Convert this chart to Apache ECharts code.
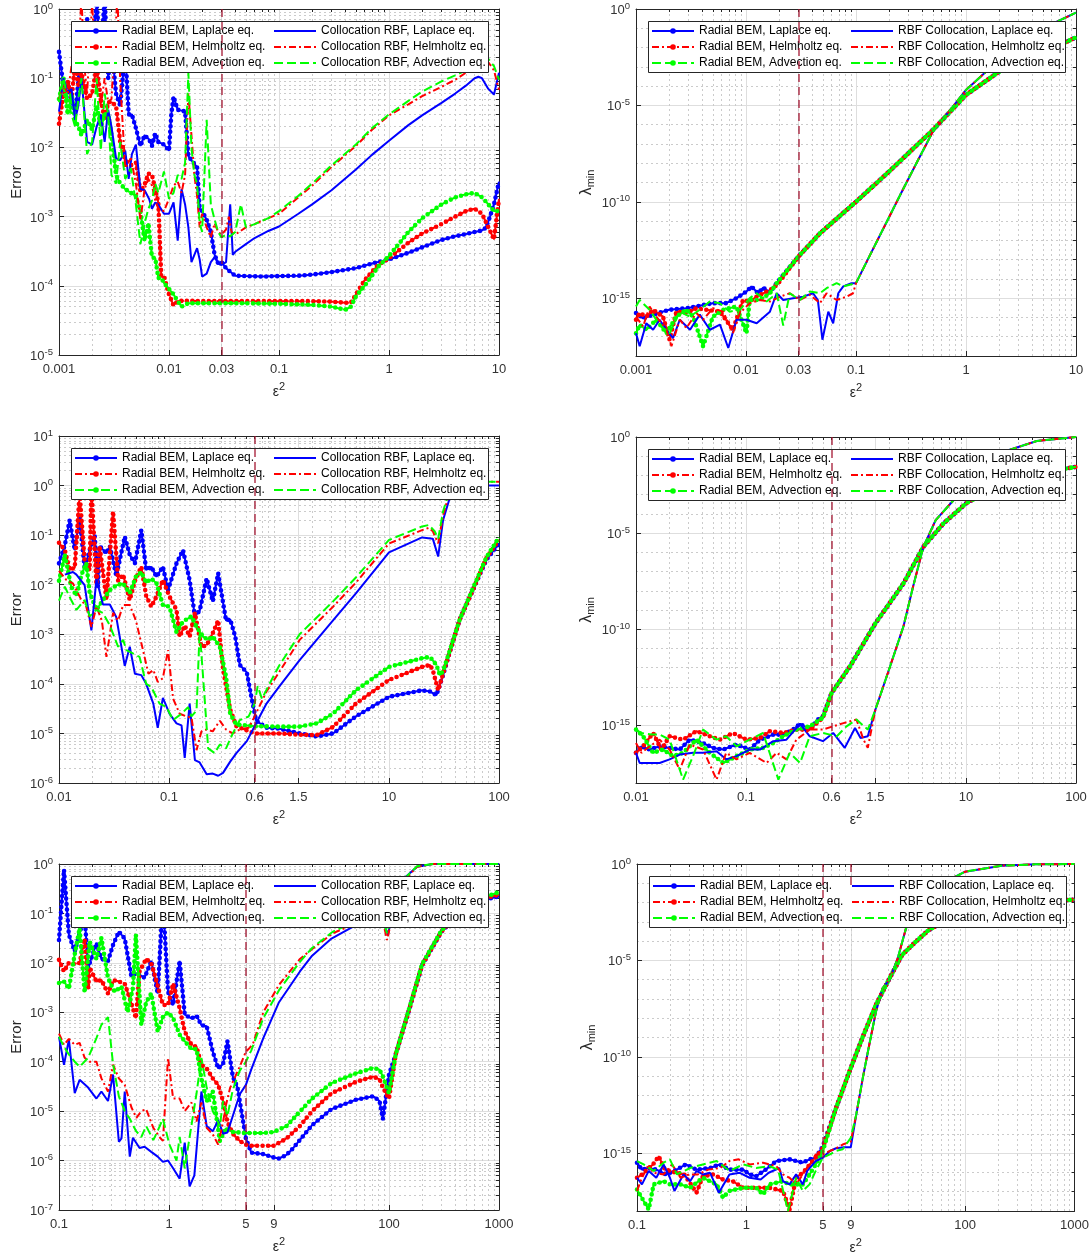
<!DOCTYPE html>
<html>
<head>
<meta charset="utf-8">
<script src="https://cdn.jsdelivr.net/npm/echarts@6/dist/echarts.min.js"></script>
<style>
html, body { margin: 0; padding: 0; background: #ffffff; }
#chart { width: 1092px; height: 1258px; }
</style>
</head>
<body>
<div id="chart"></div>
<script>
// ---------------- axis ticks ----------------
const p1XTicks = [0.001, 0.01, 0.03, 0.1, 1, 10];
const p3XTicks = [0.01, 0.1, 0.6, 1.5, 10, 100];
const p5XTicks = [0.1, 1, 5, 9, 100, 1000];
const errYTicks1 = [1e-5, 1e-4, 1e-3, 1e-2, 1e-1, 1];
const errYTicks3 = [1e-6, 1e-5, 1e-4, 1e-3, 1e-2, 1e-1, 1, 10];
const errYTicks5 = [1e-7, 1e-6, 1e-5, 1e-4, 1e-3, 1e-2, 1e-1, 1];
const lamYTicks = [1e-15, 1e-10, 1e-5, 1];

// shape parameter marked in each row
const p1RefEps = 0.03;
const p3RefEps = 0.6;
const p5RefEps = 5;
const p6RefEps2 = 9;

// ---------------- row 1: error ----------------
const p1BemLaplace = [[0.001,0.24],[0.0011,0.075],[0.0012,0.085],[0.0013,0.045],[0.0014,0.03],[0.0015,0.09],[0.0016,0.2],[0.0018,0.73],[0.002,0.25],[0.0022,1.2],[0.0024,0.2],[0.0026,1.5],[0.0028,0.1],[0.003,0.3],[0.0033,0.06],[0.0036,0.04],[0.004,0.25],[0.0043,0.03],[0.0046,0.03],[0.005,0.019],[0.0055,0.0105],[0.006,0.015],[0.0066,0.013],[0.007,0.0105],[0.0075,0.016],[0.008,0.012],[0.009,0.011],[0.01,0.009],[0.0105,0.03],[0.011,0.054],[0.012,0.035],[0.013,0.034],[0.014,0.033],[0.015,0.0075],[0.016,0.0065],[0.017,0.0058],[0.018,0.0052],[0.019,0.0013],[0.02,0.0012],[0.022,0.0009],[0.024,0.0006],[0.026,0.00028],[0.028,0.00021],[0.03,0.00022],[0.033,0.00018],[0.036,0.00016],[0.04,0.00014],[0.05,0.000138],[0.07,0.000136],[0.1,0.000138],[0.15,0.00014],[0.2,0.000145],[0.3,0.000158],[0.5,0.00018],[0.7,0.00021],[1,0.00024],[1.5,0.0003],[2,0.00036],[3,0.00046],[4,0.00052],[5,0.00056],[6,0.0006],[7,0.00063],[7.5,0.00068],[8,0.00085],[9,0.0015],[10,0.0032]];
const p1BemHelmholtz = [[0.001,0.022],[0.0011,0.06],[0.0012,0.09],[0.0013,0.05],[0.0014,0.17],[0.0015,0.08],[0.0016,0.12],[0.0018,0.05],[0.002,0.06],[0.0022,0.15],[0.0024,0.05],[0.0026,0.025],[0.0028,0.045],[0.003,0.045],[0.0033,0.04],[0.0036,0.012],[0.004,0.0065],[0.0045,0.0055],[0.005,0.006],[0.0055,0.0023],[0.006,0.0029],[0.0065,0.0042],[0.007,0.004],[0.0075,0.0025],[0.008,0.0016],[0.0085,0.00014],[0.009,0.00014],[0.0095,0.0001],[0.01,0.000075],[0.011,0.000052],[0.012,0.00006],[0.014,0.000061],[0.02,0.00006],[0.05,0.00006],[0.1,0.00006],[0.2,0.00006],[0.3,0.000059],[0.4,0.000057],[0.45,0.000057],[0.5,0.000075],[0.6,0.00012],[0.7,0.00016],[0.8,0.0002],[1,0.00025],[1.5,0.00042],[2,0.00057],[3,0.00078],[4,0.001],[5,0.0012],[6,0.0013],[7,0.0011],[8,0.0007],[9,0.00047],[10,0.0018]];
const p1BemAdvection = [[0.001,0.05],[0.0011,0.1],[0.0012,0.03],[0.0013,0.06],[0.0014,0.025],[0.0015,0.02],[0.0016,0.015],[0.0018,0.025],[0.002,0.018],[0.0022,0.04],[0.0024,0.02],[0.0026,0.03],[0.0028,0.03],[0.003,0.015],[0.0033,0.004],[0.0036,0.003],[0.004,0.0025],[0.0045,0.0022],[0.005,0.002],[0.0055,0.0012],[0.006,0.00045],[0.0065,0.0008],[0.007,0.00026],[0.0075,0.00025],[0.008,0.00013],[0.0085,0.00013],[0.009,0.00011],[0.01,0.00009],[0.011,0.000075],[0.012,0.00006],[0.013,0.00005],[0.015,0.000056],[0.02,0.000056],[0.05,0.000056],[0.1,0.000055],[0.2,0.000053],[0.3,0.00005],[0.4,0.000045],[0.45,0.00005],[0.5,0.00007],[0.6,0.0001],[0.7,0.00014],[0.8,0.00019],[1,0.00027],[1.3,0.00045],[1.5,0.0006],[2,0.00095],[3,0.0015],[4,0.0019],[5,0.0021],[6,0.0022],[7,0.0019],[8,0.0015],[9,0.0012],[10,0.0012]];
const p1RbfLaplace = [[0.001,0.033],[0.0011,0.1],[0.0012,0.06],[0.0013,0.07],[0.0014,0.025],[0.0015,0.04],[0.0016,0.1],[0.0018,0.012],[0.002,0.011],[0.0022,0.02],[0.0024,0.03],[0.0026,0.012],[0.0028,0.035],[0.003,0.02],[0.0033,0.007],[0.0036,0.0065],[0.004,0.009],[0.0043,0.0035],[0.0046,0.008],[0.005,0.011],[0.0055,0.0025],[0.006,0.0024],[0.0066,0.0018],[0.007,0.0013],[0.0075,0.0016],[0.008,0.0015],[0.009,0.0011],[0.01,0.0011],[0.011,0.0016],[0.012,0.00045],[0.013,0.0025],[0.014,0.0015],[0.015,0.0007],[0.016,0.00022],[0.018,0.00035],[0.019,0.00024],[0.02,0.000136],[0.022,0.00015],[0.024,0.00022],[0.026,0.00026],[0.028,0.00021],[0.03,0.0002],[0.033,0.00022],[0.036,0.0015],[0.038,0.00028],[0.04,0.00031],[0.05,0.0004],[0.06,0.00049],[0.08,0.00062],[0.1,0.00072],[0.15,0.0011],[0.2,0.0015],[0.3,0.0024],[0.5,0.0048],[0.7,0.0078],[1,0.0125],[1.5,0.021],[2,0.029],[3,0.044],[4,0.06],[5,0.078],[6,0.1],[6.5,0.105],[7,0.1],[8,0.07],[9,0.058],[10,0.12]];
const p1RbfHelmholtz = [[0.001,0.05],[0.0011,0.08],[0.0012,0.06],[0.0013,0.15],[0.0014,0.09],[0.0015,0.2],[0.0016,1.5],[0.0017,0.15],[0.0018,0.06],[0.002,1.2],[0.0022,0.08],[0.0024,0.04],[0.0026,0.1],[0.0028,0.045],[0.003,0.05],[0.0032,0.3],[0.0034,1.5],[0.0036,0.09],[0.004,0.005],[0.0045,0.007],[0.005,0.003],[0.0055,0.0009],[0.006,0.0025],[0.0065,0.0035],[0.007,0.0028],[0.0075,0.0017],[0.008,0.0013],[0.009,0.0012],[0.01,0.0018],[0.011,0.0028],[0.012,0.0032],[0.013,0.0022],[0.014,0.004],[0.015,0.06],[0.016,0.015],[0.017,0.004],[0.018,0.002],[0.019,0.0007],[0.02,0.0011],[0.022,0.0007],[0.024,0.0005],[0.026,0.0008],[0.028,0.0006],[0.03,0.00055],[0.033,0.00065],[0.035,0.001],[0.037,0.0006],[0.04,0.00055],[0.05,0.0007],[0.06,0.00078],[0.08,0.00095],[0.1,0.0011],[0.15,0.0019],[0.2,0.0028],[0.3,0.0052],[0.5,0.0105],[0.7,0.018],[1,0.029],[1.5,0.042],[2,0.055],[3,0.075],[4,0.095],[5,0.12],[6,0.14],[7,0.16],[8,0.17],[9,0.13],[10,0.068]];
const p1RbfAdvection = [[0.001,0.045],[0.0011,0.1],[0.0012,0.05],[0.0013,0.03],[0.0014,0.02],[0.0015,0.05],[0.0016,0.1],[0.0018,0.008],[0.002,0.012],[0.0022,0.1],[0.0024,0.009],[0.0026,0.06],[0.0028,0.03],[0.003,0.004],[0.0033,0.003],[0.0036,0.012],[0.004,0.0035],[0.0045,0.005],[0.005,0.0015],[0.0055,0.0004],[0.006,0.0008],[0.0065,0.0013],[0.007,0.0017],[0.0075,0.003],[0.008,0.0022],[0.009,0.0045],[0.01,0.0018],[0.011,0.0022],[0.012,0.004],[0.013,0.0035],[0.014,0.006],[0.015,0.12],[0.016,0.01],[0.017,0.004],[0.018,0.003],[0.019,0.0008],[0.02,0.0006],[0.022,0.025],[0.024,0.0015],[0.026,0.0009],[0.028,0.0006],[0.03,0.0005],[0.033,0.00055],[0.036,0.00052],[0.04,0.0006],[0.045,0.0015],[0.05,0.0007],[0.06,0.00078],[0.08,0.00095],[0.1,0.0012],[0.15,0.002],[0.2,0.003],[0.3,0.0055],[0.5,0.011],[0.7,0.019],[1,0.03],[1.5,0.047],[2,0.064],[3,0.09],[4,0.11],[5,0.13],[6,0.15],[7,0.17],[8,0.19],[9,0.15],[10,0.095]];

// ---------------- row 1: smallest eigenvalue ----------------
const p2BemLaplace = [[0.001,1.7e-16],[0.00116,9e-17],[0.00143,1.4e-16],[0.002,2.5e-16],[0.0029,3e-16],[0.005,5.5e-16],[0.0066,5.5e-16],[0.0082,1e-15],[0.0101,2.2e-15],[0.0112,4e-15],[0.0129,1.8e-15],[0.0143,3.5e-15],[0.0165,2e-15],[0.019,6e-15],[0.03,1.45e-13],[0.047,2.3e-12],[0.1,1e-10],[0.2,3.7e-9],[0.5,5.3e-7],[1,3.5e-5],[2,5.6e-4],[5,5e-3],[10,0.034]];
const p2BemHelmholtz = [[0.001,7.6e-17],[0.00108,1.7e-16],[0.00124,1.1e-16],[0.00143,2.5e-16],[0.00176,1.1e-16],[0.00202,7e-18],[0.00233,2e-16],[0.00287,1.7e-16],[0.00354,3e-16],[0.00437,2.5e-16],[0.0058,2e-16],[0.0076,2.3e-17],[0.0094,8e-16],[0.0108,6.7e-16],[0.0125,1.2e-15],[0.0154,2.2e-15],[0.0177,3.3e-15],[0.0197,6e-15],[0.03,1.45e-13],[0.047,2.3e-12],[0.1,1e-10],[0.2,3.7e-9],[0.5,5.3e-7],[1,3.5e-5],[2,5.6e-4],[5,5e-3],[10,0.034]];
const p2BemAdvection = [[0.001,1.5e-17],[0.00108,4.2e-17],[0.00124,2.3e-17],[0.00153,7.6e-17],[0.00189,1.5e-17],[0.00233,1.1e-16],[0.00287,2.5e-16],[0.0033,1.1e-16],[0.00407,3.2e-18],[0.005,1.1e-16],[0.0062,2.5e-16],[0.0082,3.7e-16],[0.0101,1.5e-17],[0.0108,8e-16],[0.0134,8e-16],[0.0165,1.8e-15],[0.019,6e-15],[0.03,1.45e-13],[0.047,2.3e-12],[0.1,1e-10],[0.2,3.7e-9],[0.5,5.3e-7],[1,3.5e-5],[2,5.6e-4],[5,5e-3],[10,0.034]];
const p2RbfLaplace = [[0.001,1.5e-17],[0.00108,3.2e-18],[0.00124,5e-17],[0.00143,2.3e-17],[0.00164,7.6e-17],[0.00189,2.3e-17],[0.00217,8.5e-18],[0.0025,7.6e-17],[0.0031,2.3e-17],[0.0038,1.4e-16],[0.0047,2.3e-17],[0.0058,4.2e-17],[0.0069,2.6e-18],[0.0082,7.6e-17],[0.0101,7.6e-17],[0.0125,5e-17],[0.0165,2e-16],[0.019,1.8e-15],[0.0218,8e-16],[0.0268,1e-15],[0.0331,1.2e-15],[0.0407,1.8e-15],[0.045,8e-16],[0.0495,7e-18],[0.056,2e-16],[0.062,5e-17],[0.069,1.8e-15],[0.0766,4.1e-15],[0.091,6e-15],[0.1,6e-15],[0.134,1.7e-13],[0.19,9e-12],[0.27,4.9e-10],[0.36,1.2e-8],[0.5,4.4e-7],[0.72,5.8e-6],[1,6.3e-5],[2,2.3e-3],[5,0.1],[10,0.65]];
const p2RbfHelmholtz = [[0.001,1.1e-16],[0.00116,3.4e-17],[0.00133,3.7e-16],[0.00153,1.1e-16],[0.00189,2.3e-17],[0.0021,3.2e-18],[0.0025,7.6e-17],[0.00287,2.8e-17],[0.00354,1.7e-16],[0.00407,7.6e-17],[0.005,3e-16],[0.0062,2e-16],[0.0076,1.5e-17],[0.0088,1.7e-16],[0.0108,5.5e-16],[0.0134,8e-16],[0.0165,6.7e-16],[0.0204,1.2e-15],[0.025,1.8e-15],[0.0309,8e-16],[0.038,1.5e-15],[0.047,5.5e-16],[0.054,1.8e-15],[0.0666,8e-16],[0.082,1.2e-15],[0.094,1.8e-15],[0.1,6e-15],[0.134,1.7e-13],[0.19,9e-12],[0.27,4.9e-10],[0.36,1.2e-8],[0.5,4.4e-7],[0.72,5.8e-6],[1,6.3e-5],[2,2.3e-3],[5,0.1],[10,0.65]];
const p2RbfAdvection = [[0.001,3.7e-16],[0.00108,8e-16],[0.00133,2.5e-16],[0.00164,4.2e-17],[0.00202,1.5e-17],[0.0025,2e-16],[0.00308,1.1e-16],[0.0038,2.5e-16],[0.00469,6.7e-16],[0.00577,5.5e-16],[0.0071,2e-16],[0.0088,2.5e-16],[0.0108,1e-15],[0.0125,1.8e-15],[0.0154,6.7e-16],[0.019,1.8e-15],[0.0218,3.8e-17],[0.025,1.8e-15],[0.0309,8e-16],[0.038,2.2e-15],[0.047,1.8e-15],[0.054,3.3e-15],[0.0666,6e-15],[0.0766,4.1e-15],[0.1,6e-15],[0.134,1.7e-13],[0.19,9e-12],[0.27,4.9e-10],[0.36,1.2e-8],[0.5,4.4e-7],[0.72,5.8e-6],[1,6.3e-5],[2,2.3e-3],[5,0.1],[10,0.65]];

// ---------------- row 2: error ----------------
const p3BemLaplace = [[0.01,0.027],[0.0113,0.063],[0.0125,0.2],[0.0139,0.05],[0.0154,0.24],[0.0171,0.021],[0.019,0.05],[0.0211,0.1],[0.0226,0.009],[0.0234,0.06],[0.027,0.043],[0.029,0.06],[0.0332,0.015],[0.0396,0.093],[0.044,0.04],[0.049,0.027],[0.056,0.126],[0.062,0.02],[0.069,0.023],[0.077,0.0145],[0.088,0.023],[0.098,0.0078],[0.117,0.027],[0.134,0.05],[0.154,0.0124],[0.172,0.0023],[0.19,0.003],[0.22,0.0134],[0.25,0.0046],[0.28,0.017],[0.33,0.0019],[0.36,0.002],[0.4,0.0009],[0.44,0.00024],[0.51,0.00017],[0.56,5.5e-5],[0.62,1.8e-5],[0.77,1.3e-5],[1,1.25e-5],[1.54,1e-5],[2.2,8.7e-6],[3.1,1e-5],[5,2.2e-5],[10,5.5e-5],[20,7.4e-5],[23.6,7e-5],[27,5.9e-5],[31,1.5e-4],[36,4.7e-4],[44,2e-3],[58,7.9e-3],[77,0.032],[100,0.068]];
const p3BemHelmholtz = [[0.01,0.07],[0.0113,0.05],[0.0125,0.02],[0.0139,0.022],[0.0154,0.7],[0.0171,0.03],[0.019,0.02],[0.0197,1.0],[0.0219,0.01],[0.0234,0.06],[0.027,0.005],[0.031,0.3],[0.0345,0.012],[0.0383,0.016],[0.044,0.0049],[0.049,0.012],[0.056,0.023],[0.062,0.006],[0.069,0.0036],[0.077,0.0058],[0.088,0.0124],[0.101,0.0058],[0.117,0.0031],[0.125,0.0009],[0.139,0.0015],[0.154,0.0009],[0.172,0.0027],[0.197,0.00056],[0.22,0.0006],[0.25,0.00105],[0.28,0.0019],[0.31,0.0002],[0.36,3e-5],[0.41,1.4e-5],[0.51,1.15e-5],[0.6,1e-5],[0.77,1e-5],[1,1e-5],[1.54,9.4e-6],[2.2,9.3e-6],[3.1,1.35e-5],[5,4e-5],[10,1.2e-4],[20,2.2e-4],[23.6,2.4e-4],[25,1.9e-4],[28,7.4e-5],[31,1.6e-4],[36,4.7e-4],[44,2e-3],[58,7.9e-3],[77,0.035],[100,0.08]];
const p3BemAdvection = [[0.01,0.012],[0.0113,0.04],[0.0129,0.0091],[0.0144,0.006],[0.016,0.016],[0.0177,0.027],[0.019,0.007],[0.0219,0.0031],[0.0251,0.0049],[0.029,0.0078],[0.0332,0.0097],[0.0383,0.0106],[0.044,0.0067],[0.05,0.0145],[0.056,0.018],[0.062,0.011],[0.069,0.0134],[0.077,0.0106],[0.088,0.0039],[0.101,0.0036],[0.117,0.0011],[0.134,0.0018],[0.16,0.0023],[0.178,0.0014],[0.204,0.0009],[0.227,0.00077],[0.25,0.0009],[0.29,0.00056],[0.33,0.00014],[0.36,2.5e-5],[0.41,1.5e-5],[0.51,1.45e-5],[0.6,1.4e-5],[1,1.37e-5],[1.54,1.37e-5],[2.2,1.6e-5],[3.1,2.5e-5],[5,7.4e-5],[10,2.2e-4],[20,3.3e-4],[23.6,3.5e-4],[27,2.4e-4],[29,1.5e-4],[31,1.8e-4],[36,5e-4],[44,2e-3],[58,8.5e-3],[77,0.036],[100,0.09]];
const p3RbfLaplace = [[0.0113,0.016],[0.0134,0.018],[0.0144,0.016],[0.0171,0.0098],[0.0197,0.0012],[0.0219,0.013],[0.0251,0.004],[0.029,0.004],[0.0332,0.0022],[0.0396,0.00023],[0.044,0.00056],[0.049,0.00016],[0.056,0.00015],[0.062,0.0001],[0.072,4e-5],[0.079,1.3e-5],[0.088,5.2e-5],[0.101,2.5e-5],[0.117,1.6e-5],[0.13,1.45e-5],[0.139,3.2e-6],[0.154,4e-5],[0.172,2.9e-6],[0.19,2.6e-6],[0.22,1.5e-6],[0.25,1.55e-6],[0.28,1.4e-6],[0.31,1.6e-6],[0.36,2.7e-6],[0.41,4e-6],[0.51,7e-6],[0.6,1.4e-5],[0.77,4e-5],[1,8.7e-5],[1.54,3e-4],[3.1,1.9e-3],[5,6.7e-3],[10,0.045],[20,0.09],[25,0.085],[28,0.037],[31,0.2],[36,0.6],[41,1],[60,1],[100,1]];
const p3RbfHelmholtz = [[0.01,0.019],[0.0117,0.0124],[0.0134,0.0106],[0.016,0.0049],[0.0177,0.0036],[0.0197,0.0014],[0.0219,0.0036],[0.0245,0.0019],[0.027,0.00035],[0.031,0.0027],[0.0345,0.0019],[0.0383,0.0039],[0.044,0.0039],[0.05,0.0019],[0.058,0.00048],[0.065,0.00016],[0.072,0.00019],[0.079,0.00011],[0.088,0.00013],[0.098,0.00048],[0.109,5e-5],[0.125,2.5e-5],[0.144,2.2e-5],[0.16,2.1e-5],[0.178,4.6e-6],[0.197,1.1e-5],[0.22,1.2e-5],[0.25,1.1e-5],[0.29,1.8e-5],[0.33,1.2e-5],[0.38,1e-5],[0.44,1.2e-5],[0.53,1.3e-5],[0.6,2.2e-5],[0.77,7e-5],[1,1.7e-4],[1.54,7.7e-4],[3.1,3.6e-3],[5,0.011],[10,0.068],[20,0.126],[23,0.14],[25,0.12],[28,0.068],[31,0.25],[36,0.8],[43,1.2],[58,1.2],[100,1.2]];
const p3RbfAdvection = [[0.01,0.0048],[0.0113,0.0091],[0.0129,0.0049],[0.0144,0.0031],[0.0171,0.0049],[0.019,0.0023],[0.0219,0.0031],[0.0251,0.0027],[0.029,0.0015],[0.0345,0.00056],[0.0383,0.00077],[0.041,0.00048],[0.047,0.00041],[0.054,0.00035],[0.062,0.0001],[0.069,8.7e-5],[0.082,4e-5],[0.095,3.4e-5],[0.109,1.86e-5],[0.13,2.5e-5],[0.149,3.4e-5],[0.16,2.2e-5],[0.178,2.9e-5],[0.19,0.0012],[0.204,0.00014],[0.227,5e-6],[0.26,4e-6],[0.29,6e-6],[0.33,5e-6],[0.38,1e-5],[0.44,1.86e-5],[0.53,2.2e-5],[0.6,4e-5],[0.64,9e-5],[0.7,5e-5],[0.8,9e-5],[1,2.3e-4],[1.54,1e-3],[3.1,4.6e-3],[5,0.014],[10,0.08],[20,0.15],[23,0.16],[26,0.12],[28,0.085],[31,0.3],[36,0.9],[43,1.2],[100,1.2]];

// ---------------- row 2: smallest eigenvalue ----------------
const p4BemLaplace = [[0.01,3.7e-17],[0.0112,8.1e-17],[0.0133,5.5e-17],[0.0164,8.1e-17],[0.0202,6.7e-17],[0.025,5.5e-17],[0.0308,1.8e-16],[0.0407,1.2e-16],[0.05,6.7e-17],[0.062,5.5e-17],[0.082,1e-16],[0.108,5.5e-17],[0.134,1.8e-16],[0.177,3.3e-16],[0.218,3.3e-16],[0.268,6e-16],[0.31,1.2e-15],[0.38,6e-16],[0.45,2e-15],[0.5,3e-15],[0.6,4.8e-14],[0.88,1.15e-12],[1.5,2e-10],[2.7,2.4e-8],[4.1,1.95e-6],[6.25,3.2e-5],[10,3.5e-4],[15.5,1.4e-3],[22,3.8e-3],[44,0.0125],[100,0.028]];
const p4BemHelmholtz = [[0.01,3.7e-17],[0.0116,8.1e-17],[0.0143,4e-16],[0.017,5.5e-17],[0.0202,2.7e-16],[0.0268,1.8e-16],[0.0354,5e-16],[0.0469,2.7e-16],[0.058,1.8e-16],[0.076,4e-16],[0.101,1.8e-16],[0.134,2.2e-16],[0.165,5e-16],[0.218,4e-16],[0.287,6e-16],[0.38,6e-16],[0.5,2.5e-15],[0.6,4.8e-14],[0.88,1.15e-12],[1.5,2e-10],[2.7,2.4e-8],[4.1,1.95e-6],[6.25,3.2e-5],[10,3.5e-4],[15.5,1.4e-3],[22,3.8e-3],[44,0.0125],[100,0.028]];
const p4BemAdvection = [[0.01,6e-16],[0.0116,2.7e-16],[0.0143,3.7e-17],[0.0176,5.5e-17],[0.0217,2.5e-17],[0.0268,3.7e-17],[0.0354,1.8e-16],[0.0469,3.7e-17],[0.062,1.1e-17],[0.082,2.5e-17],[0.108,5.5e-17],[0.143,6.7e-17],[0.177,1.2e-16],[0.218,2.7e-16],[0.287,6e-16],[0.38,8.9e-16],[0.5,2.5e-15],[0.6,4.8e-14],[0.88,1.15e-12],[1.5,2e-10],[2.7,2.4e-8],[4.1,1.95e-6],[6.25,3.2e-5],[10,3.5e-4],[15.5,1.4e-3],[22,3.8e-3],[44,0.0125],[100,0.028]];
const p4RbfLaplace = [[0.01,3.7e-17],[0.0108,1.1e-17],[0.0133,1.1e-17],[0.0164,1.1e-17],[0.0202,1.7e-17],[0.025,3e-17],[0.033,3.7e-17],[0.0407,3.7e-17],[0.054,4.5e-17],[0.066,1.7e-17],[0.082,2.5e-17],[0.108,5.5e-17],[0.134,5.5e-17],[0.177,1.5e-16],[0.233,1.8e-16],[0.31,1.2e-15],[0.38,2.7e-16],[0.5,1.5e-16],[0.62,4e-16],[0.79,6.7e-17],[0.98,7.3e-16],[1.1,2.2e-16],[1.28,2.7e-16],[1.5,6.5e-15],[2.04,1.15e-12],[2.7,1.4e-10],[3.3,1.6e-8],[4.1,1.95e-6],[5.3,4.7e-5],[7.7,5.1e-4],[10,2.1e-3],[15.5,0.041],[22,0.17],[44,0.62],[100,1]];
const p4RbfHelmholtz = [[0.01,1.2e-16],[0.0112,3.7e-17],[0.0133,8.1e-17],[0.0164,1.8e-16],[0.0202,5.5e-17],[0.025,5e-18],[0.0308,1e-16],[0.0407,5.5e-17],[0.054,1.5e-18],[0.066,3.7e-17],[0.082,1.7e-17],[0.108,3.7e-17],[0.154,1.1e-17],[0.19,3.7e-17],[0.233,1.7e-17],[0.287,1.8e-16],[0.38,6e-16],[0.5,6e-16],[0.62,8.9e-16],[0.77,1.3e-15],[1.01,2e-15],[1.17,1.8e-16],[1.28,6.7e-17],[1.5,6.5e-15],[2.04,1.15e-12],[2.7,1.4e-10],[3.3,1.6e-8],[4.1,1.95e-6],[5.3,4.7e-5],[7.7,5.1e-4],[10,2.1e-3],[15.5,0.041],[22,0.17],[44,0.62],[100,1]];
const p4RbfAdvection = [[0.01,6e-16],[0.0112,4e-16],[0.0138,3.3e-16],[0.0164,3.3e-16],[0.0202,1.8e-16],[0.0268,1.5e-18],[0.033,2.5e-17],[0.0407,6e-16],[0.054,1.8e-16],[0.066,2.7e-16],[0.082,8.1e-17],[0.108,1.8e-16],[0.143,4e-16],[0.197,1.5e-18],[0.25,3.7e-17],[0.31,1.1e-17],[0.38,2.7e-16],[0.5,4e-16],[0.67,2.7e-16],[0.82,8.9e-16],[1.01,2e-15],[1.28,6e-16],[1.5,6.5e-15],[2.04,1.15e-12],[2.7,1.4e-10],[3.3,1.6e-8],[4.1,1.95e-6],[5.3,4.7e-5],[7.7,5.1e-4],[10,2.1e-3],[15.5,0.041],[22,0.17],[44,0.62],[100,1]];

// ---------------- row 3: error ----------------
const p5BemLaplace = [[0.1,0.029],[0.111,0.76],[0.123,0.037],[0.139,0.017],[0.154,0.04],[0.171,0.09],[0.184,0.008],[0.219,0.025],[0.243,0.012],[0.279,0.011],[0.31,0.023],[0.35,0.043],[0.396,0.031],[0.455,0.0053],[0.5,0.0062],[0.6,0.005],[0.69,0.011],[0.79,0.0024],[0.88,0.2],[0.98,0.0026],[1.09,0.0014],[1.25,0.011],[1.39,0.0009],[1.6,0.00075],[1.78,0.00085],[1.97,0.00055],[2.2,0.00052],[2.5,0.00016],[2.8,7.3e-5],[3.1,9e-5],[3.4,0.00026],[3.8,5e-5],[4.2,3e-5],[5,2.8e-6],[5.6,1.45e-6],[7.2,1.35e-6],[9,1.15e-6],[10,1.1e-6],[11.7,1.3e-6],[13.5,1.8e-6],[20,5.2e-6],[30,1.1e-5],[50,1.7e-5],[72,2e-5],[82,1.6e-5],[88,7e-6],[100,5.5e-5],[115,1.4e-4],[150,1e-3],[200,9e-3],[300,0.043],[500,0.13],[720,0.19],[1000,0.22]];
const p5BemHelmholtz = [[0.1,0.0115],[0.111,0.0067],[0.123,0.01],[0.139,0.0095],[0.154,0.01],[0.171,0.031],[0.184,0.003],[0.19,0.008],[0.219,0.0042],[0.243,0.0045],[0.279,0.0024],[0.31,0.0045],[0.35,0.0042],[0.396,0.0038],[0.455,0.0015],[0.5,0.00076],[0.54,0.0067],[0.62,0.012],[0.69,0.0098],[0.77,0.0042],[0.88,0.0014],[0.98,0.0014],[1.09,0.0038],[1.25,0.0012],[1.39,0.00041],[1.6,0.00022],[1.78,0.0002],[1.97,8.6e-5],[2.2,7.3e-5],[2.5,4.6e-5],[2.8,3.4e-5],[3.1,1.6e-5],[3.4,6e-6],[3.8,3.5e-6],[4.4,2.5e-6],[5,2.1e-6],[5.6,2e-6],[7.2,2e-6],[9,2e-6],[11.7,2.8e-6],[15.5,5e-6],[20,1e-5],[30,2.3e-5],[50,3.9e-5],[72,5e-5],[82,4.4e-5],[88,3e-5],[100,1.8e-5],[115,1.4e-4],[150,1e-3],[200,9e-3],[300,0.043],[500,0.14],[720,0.2],[1000,0.24]];
const p5BemAdvection = [[0.1,0.0039],[0.111,0.0042],[0.123,0.003],[0.139,0.015],[0.154,0.05],[0.171,0.0025],[0.19,0.027],[0.219,0.012],[0.243,0.032],[0.279,0.0049],[0.32,0.0026],[0.37,0.0033],[0.42,0.001],[0.47,0.0031],[0.5,0.037],[0.56,0.00056],[0.62,0.0016],[0.69,0.0024],[0.79,0.00041],[0.88,0.0008],[0.98,0.001],[1.09,0.00076],[1.25,0.00035],[1.39,0.00026],[1.6,0.00018],[1.78,0.00018],[1.97,4.6e-5],[2.2,1.6e-5],[2.5,2.5e-5],[2.9,2.5e-6],[3.3,4.5e-6],[3.8,3.8e-6],[5,3.6e-6],[7.2,3.6e-6],[9,3.8e-6],[11.7,5e-6],[20,1.8e-5],[30,3.7e-5],[50,5.8e-5],[72,7.5e-5],[82,6.9e-5],[88,5e-5],[100,2.3e-5],[115,1.4e-4],[150,1.05e-3],[200,9.5e-3],[300,0.045],[500,0.15],[720,0.21],[1000,0.27]];
const p5RbfLaplace = [[0.1,0.00032],[0.111,8.7e-5],[0.123,0.00028],[0.139,2.3e-5],[0.154,4.3e-5],[0.184,3e-5],[0.219,1.8e-5],[0.243,2.5e-5],[0.279,1.6e-5],[0.31,5.5e-5],[0.35,2.4e-6],[0.37,2.8e-6],[0.396,2.5e-5],[0.44,1.2e-6],[0.47,2.9e-6],[0.54,1.8e-6],[0.6,1.9e-6],[0.69,1.5e-6],[0.79,1.2e-6],[0.88,9.4e-7],[0.98,1e-6],[1.09,7e-7],[1.25,4.3e-7],[1.39,2.3e-6],[1.54,3e-7],[1.7,5e-7],[1.97,2.5e-5],[2.2,5e-6],[2.5,3.9e-6],[2.8,6.6e-6],[3.1,3.5e-6],[3.4,3.7e-6],[3.8,8e-6],[4.4,2.2e-5],[5,3.4e-5],[5.6,7e-5],[7.2,3e-4],[10,1.6e-3],[15.5,6.7e-3],[20,0.014],[30,0.031],[50,0.058],[72,0.08],[88,0.07],[98,0.037],[110,0.15],[135,0.5],[180,0.88],[250,1],[1000,1]];
const p5RbfHelmholtz = [[0.1,0.00037],[0.111,0.00022],[0.123,0.00029],[0.139,0.00022],[0.154,0.00024],[0.171,0.00012],[0.19,0.0001],[0.219,0.0001],[0.243,4.6e-5],[0.279,2.5e-5],[0.31,8.7e-5],[0.35,4.6e-5],[0.396,3.4e-5],[0.455,1.2e-5],[0.505,7.3e-6],[0.56,1e-5],[0.62,1.1e-5],[0.72,4.6e-6],[0.83,2.9e-6],[0.88,2.5e-6],[0.98,0.00012],[1.09,1.8e-5],[1.25,1.8e-5],[1.39,1e-5],[1.6,1.5e-5],[1.78,6.2e-6],[1.97,1.5e-5],[2.2,4.6e-6],[2.5,3.4e-6],[2.8,2.1e-6],[3.1,6e-6],[3.3,1.35e-5],[3.6,3e-5],[4,5e-5],[4.4,8e-5],[5,1.6e-4],[5.4,1.9e-4],[5.8,2.3e-4],[7.2,1e-3],[10,3.6e-3],[15.5,0.012],[20,0.019],[31,0.04],[50,0.063],[72,0.074],[88,0.07],[96,0.029],[110,0.11],[135,0.45],[180,0.88],[250,1],[1000,1]];
const p5RbfAdvection = [[0.1,0.00032],[0.111,0.0002],[0.123,0.00014],[0.139,0.0001],[0.154,7.9e-5],[0.184,0.00012],[0.219,0.0003],[0.243,0.00056],[0.279,0.0008],[0.31,9e-5],[0.35,2e-5],[0.396,1e-5],[0.44,7e-6],[0.5,4e-6],[0.56,3e-6],[0.62,5e-6],[0.72,2.6e-6],[0.79,4e-6],[0.88,7e-6],[1.01,2.1e-6],[1.17,1e-6],[1.25,3e-6],[1.39,7e-7],[1.54,3e-6],[1.78,2.3e-5],[1.97,0.00012],[2.2,3e-5],[2.5,1e-5],[2.9,5e-6],[3.1,1.6e-5],[3.4,8e-6],[3.8,2.7e-5],[4.4,6.6e-5],[5,1e-4],[5.6,1.7e-4],[7.2,7.6e-4],[10,2.8e-3],[15.5,0.0105],[20,0.02],[31,0.043],[50,0.07],[72,0.082],[88,0.075],[96,0.04],[110,0.13],[135,0.48],[180,0.9],[250,1],[1000,1]];

// ---------------- row 3: smallest eigenvalue ----------------
const p6BemLaplace = [[0.1,3.2e-16],[0.111,1.4e-16],[0.128,1.7e-16],[0.15,1.4e-16],[0.185,7.9e-17],[0.231,1.4e-16],[0.28,2.6e-16],[0.35,1.4e-16],[0.466,1.7e-16],[0.57,2.6e-16],[0.7,1.4e-16],[0.81,1.4e-16],[0.935,1.4e-16],[1.07,7.9e-17],[1.23,6.4e-17],[1.5,1.4e-16],[1.88,3.9e-16],[2.48,4.8e-16],[3.28,3.2e-16],[3.78,4.8e-16],[4.3,5.8e-16],[5,2.3e-15],[6.6,2.2e-13],[9,2.6e-11],[11.6,1.1e-9],[15.3,5e-8],[20.4,1.2e-6],[26.5,1.9e-5],[35.5,9.5e-5],[46.6,3.8e-4],[100,4.1e-3],[215,9.2e-3],[440,0.012],[1000,0.014]];
const p6BemHelmholtz = [[0.1,5.3e-17],[0.111,7.9e-17],[0.14,2.6e-16],[0.158,6.9e-16],[0.18,1.4e-16],[0.23,9.6e-17],[0.27,7.9e-17],[0.35,8.8e-18],[0.4,6.4e-17],[0.5,7.9e-17],[0.61,4.3e-17],[0.75,3.5e-17],[0.935,1.6e-17],[1.23,1.6e-17],[1.63,1.6e-17],[2.16,1.1e-17],[2.48,1.2e-18],[2.85,5.3e-17],[3.28,9.6e-17],[4.3,5.8e-16],[5,1.8e-15],[6.6,2.2e-13],[9,2.6e-11],[11.6,1.1e-9],[15.3,5e-8],[20.4,1.2e-6],[26.5,1.9e-5],[35.5,9.5e-5],[46.6,3.8e-4],[100,4.1e-3],[215,9.2e-3],[440,0.012],[1000,0.014]];
const p6BemAdvection = [[0.1,1.3e-17],[0.115,3.3e-18],[0.128,1.2e-18],[0.142,2.4e-17],[0.175,3.5e-17],[0.2,2.4e-17],[0.25,2.4e-17],[0.306,1.6e-17],[0.4,5.3e-17],[0.535,2.4e-17],[0.61,4.9e-18],[0.7,1.1e-17],[0.935,1.6e-17],[1.23,1.6e-17],[1.42,7.2e-18],[1.63,2.4e-17],[2.16,3.5e-17],[2.48,2.4e-17],[3.28,2.4e-17],[3.78,7.9e-17],[4.3,2.6e-16],[5,1.3e-15],[6.6,2.2e-13],[9,2.6e-11],[11.6,1.1e-9],[15.3,5e-8],[20.4,1.2e-6],[26.5,1.9e-5],[35.5,9.5e-5],[46.6,3.8e-4],[100,4.1e-3],[215,9.2e-3],[440,0.012],[1000,0.014]];
const p6RbfLaplace = [[0.1,5.3e-17],[0.111,2.4e-17],[0.128,1.2e-16],[0.15,5.3e-17],[0.175,2.6e-16],[0.2,5.3e-17],[0.22,1.1e-17],[0.266,7.9e-17],[0.306,3.5e-17],[0.35,1.2e-16],[0.4,7.9e-17],[0.466,9.6e-17],[0.56,8.8e-18],[0.7,7.9e-17],[0.87,9.6e-17],[1.07,5.3e-17],[1.35,4.3e-17],[1.6,9.6e-17],[2,1.7e-16],[2.16,3.5e-17],[2.48,2.4e-17],[2.85,7.9e-17],[3.28,2.4e-17],[3.6,1.2e-16],[4.3,3.9e-16],[5,5.8e-16],[5.8,1.3e-15],[6.6,1.8e-15],[7.8,2e-15],[9,2e-15],[10.1,1e-13],[11.6,8e-12],[13.3,4.3e-10],[15.3,2.2e-8],[17.6,3.6e-7],[20.4,1e-6],[24.2,1.3e-5],[28.8,4.7e-4],[40.7,0.011],[54,0.067],[100,0.4],[215,0.82],[440,0.96],[1000,1]];
const p6RbfHelmholtz = [[0.1,1.1e-17],[0.111,5.3e-17],[0.128,2.6e-16],[0.14,9.6e-17],[0.175,7.9e-17],[0.21,2.6e-16],[0.25,5.3e-17],[0.3,7.9e-17],[0.36,7.9e-17],[0.45,1.4e-16],[0.58,1.7e-16],[0.7,3.9e-16],[0.85,4.8e-16],[1.07,2.6e-16],[1.42,3.2e-16],[1.88,2.1e-16],[2.16,7.9e-17],[2.48,5.3e-17],[2.85,2.4e-17],[3.28,7.9e-17],[3.78,2.6e-16],[4.3,8.6e-16],[5,8.6e-16],[5.8,1.3e-15],[6.6,1.8e-15],[7.6,2.8e-15],[9,4e-15],[10.1,1e-13],[11.6,8e-12],[13.3,4.3e-10],[15.3,2.2e-8],[17.6,3.6e-7],[20.4,1e-6],[24.2,1.3e-5],[28.8,4.7e-4],[40.7,0.011],[54,0.067],[100,0.4],[215,0.82],[440,0.96],[1000,1]];
const p6RbfAdvection = [[0.1,3.9e-16],[0.115,2.6e-16],[0.142,1.2e-16],[0.175,3.2e-16],[0.2,4.8e-16],[0.231,7.9e-17],[0.306,1.7e-16],[0.4,2.6e-16],[0.535,3.9e-16],[0.7,1.2e-16],[0.935,2.6e-16],[1.23,1.7e-16],[1.63,2.1e-16],[1.95,1.4e-16],[2.4,1e-18],[2.85,5.3e-17],[3.28,1.1e-17],[3.78,2.4e-17],[4.3,1.2e-16],[5,5.8e-16],[5.8,8.6e-16],[6.6,1.3e-15],[7.6,1.6e-15],[9,6.2e-15],[10.1,1e-13],[11.6,8e-12],[13.3,4.3e-10],[15.3,2.2e-8],[17.6,3.6e-7],[20.4,1e-6],[24.2,1.3e-5],[28.8,4.7e-4],[40.7,0.011],[54,0.067],[100,0.4],[215,0.82],[440,0.96],[1000,1]];

// ---------------- styling ----------------
const FONT = '"Liberation Sans", Arial, Helvetica, sans-serif';
const INK = '#262626';
const LABEL = '#333333';
const GRID_MAJOR = '#dedede';
const GRID_MINOR = '#cbcbcb';
const C_LAP = '#0000FF', C_HELM = '#FF0000', C_ADV = '#00FF00';
const REF_COLOR = '#A2142F';
const DASH = [9, 4];
const DASHDOT = [7, 3, 2, 3];

const BEM_NAMES = ['Radial BEM, Laplace eq.', 'Radial BEM, Helmholtz eq.', 'Radial BEM, Advection eq.'];
const COLLOC_NAMES = ['Collocation RBF, Laplace eq.', 'Collocation RBF, Helmholtz eq.', 'Collocation RBF, Advection eq.'];
const RBFC_NAMES = ['RBF Collocation, Laplace eq.', 'RBF Collocation, Helmholtz eq.', 'RBF Collocation, Advection eq.'];

const GRIDS = [
  { left: 59,  top: 9,   width: 440, height: 346 },
  { left: 636, top: 9,   width: 440, height: 347 },
  { left: 59,  top: 436, width: 440, height: 347 },
  { left: 636, top: 437, width: 440, height: 346 },
  { left: 59,  top: 864, width: 440, height: 346 },
  { left: 637, top: 864, width: 439, height: 347 }
];
// legend frame inside each plot box
const LEGEND_BOX = { dx: 12, dy: 12, width: 417, height: 51, colGap: 199 };

function minorLog(min, max) {
  const out = [];
  const e0 = Math.floor(Math.log10(min)), e1 = Math.ceil(Math.log10(max));
  for (let e = e0; e < e1; e++) {
    for (let k = 2; k <= 9; k++) {
      const v = +(k * Math.pow(10, e)).toPrecision(6);
      if (v > min && v < max) out.push(v);
    }
  }
  return out;
}
function unlabeledDecades(min, max, labeled) {
  const out = [];
  for (let e = Math.round(Math.log10(min)) + 1; e < Math.round(Math.log10(max)); e++) {
    const v = +Math.pow(10, e).toPrecision(6);
    if (labeled.indexOf(v) < 0) out.push(v);
  }
  return out;
}

const PANELS = [
  { xMin: 0.001, xMax: 10, xTicks: p1XTicks, yMin: 1e-5, yMax: 1, yTicks: errYTicks1, kind: 'err', ref: [p1RefEps],
    bem: [p1BemLaplace, p1BemHelmholtz, p1BemAdvection], rbf: [p1RbfLaplace, p1RbfHelmholtz, p1RbfAdvection], rbfNames: COLLOC_NAMES },
  { xMin: 0.001, xMax: 10, xTicks: p1XTicks, yMin: 1e-18, yMax: 1, yTicks: lamYTicks, kind: 'lam', ref: [p1RefEps],
    bem: [p2BemLaplace, p2BemHelmholtz, p2BemAdvection], rbf: [p2RbfLaplace, p2RbfHelmholtz, p2RbfAdvection], rbfNames: RBFC_NAMES },
  { xMin: 0.01, xMax: 100, xTicks: p3XTicks, yMin: 1e-6, yMax: 10, yTicks: errYTicks3, kind: 'err', ref: [p3RefEps],
    bem: [p3BemLaplace, p3BemHelmholtz, p3BemAdvection], rbf: [p3RbfLaplace, p3RbfHelmholtz, p3RbfAdvection], rbfNames: COLLOC_NAMES },
  { xMin: 0.01, xMax: 100, xTicks: p3XTicks, yMin: 1e-18, yMax: 1, yTicks: lamYTicks, kind: 'lam', ref: [p3RefEps],
    bem: [p4BemLaplace, p4BemHelmholtz, p4BemAdvection], rbf: [p4RbfLaplace, p4RbfHelmholtz, p4RbfAdvection], rbfNames: RBFC_NAMES },
  { xMin: 0.1, xMax: 1000, xTicks: p5XTicks, yMin: 1e-7, yMax: 1, yTicks: errYTicks5, kind: 'err', ref: [p5RefEps],
    bem: [p5BemLaplace, p5BemHelmholtz, p5BemAdvection], rbf: [p5RbfLaplace, p5RbfHelmholtz, p5RbfAdvection], rbfNames: COLLOC_NAMES },
  { xMin: 0.1, xMax: 1000, xTicks: p5XTicks, yMin: 1e-18, yMax: 1, yTicks: lamYTicks, kind: 'lam', ref: [p5RefEps], refShort: p6RefEps2,
    bem: [p6BemLaplace, p6BemHelmholtz, p6BemAdvection], rbf: [p6RbfLaplace, p6RbfHelmholtz, p6RbfAdvection], rbfNames: RBFC_NAMES }
];

const TICK_RICH = {
  b: { fontSize: 13, fontFamily: FONT, color: LABEL, verticalAlign: 'bottom' },
  s: { fontSize: 9.5, fontFamily: FONT, color: LABEL, padding: [0, 0, 6, 0] }
};
const fmtPow = v => '{b|10}{s|' + Math.round(Math.log10(v)) + '}';
const fmtNum = v => String(+(+v).toPrecision(6));

const grid = [], xAxis = [], yAxis = [], series = [], legend = [], graphic = [];

PANELS.forEach((p, gi) => {
  const g = GRIDS[gi];
  grid.push(Object.assign({ containLabel: false }, g));
  const xMinor = minorLog(p.xMin, p.xMax);
  const yMinor = p.kind === 'err' ? minorLog(p.yMin, p.yMax) : unlabeledDecades(p.yMin, p.yMax, p.yTicks);

  xAxis.push({
    type: 'log', gridIndex: gi, position: 'bottom', min: p.xMin, max: p.xMax,
    axisLine: { show: true, onZero: false, lineStyle: { color: INK, width: 1 } },
    axisTick: { show: true, inside: true, length: 5, customValues: p.xTicks, lineStyle: { color: INK } },
    axisLabel: { customValues: p.xTicks, formatter: fmtNum, margin: 8, fontSize: 13, fontFamily: FONT, color: LABEL },
    splitLine: { show: true, lineStyle: { color: GRID_MAJOR, width: 1 } },
    name: '{e|ε}{s|2}', nameLocation: 'middle', nameGap: 26,
    nameTextStyle: { rich: {
      e: { fontSize: 14, fontFamily: FONT, color: INK, verticalAlign: 'bottom' },
      s: { fontSize: 11, fontFamily: FONT, color: INK, padding: [0, 0, 7, 0] }
    } }
  });
  xAxis.push({
    type: 'log', gridIndex: gi, position: 'top', min: p.xMin, max: p.xMax,
    axisLine: { show: true, onZero: false, lineStyle: { color: INK, width: 1 } },
    axisTick: { show: true, inside: true, length: 3, customValues: xMinor, lineStyle: { color: INK } },
    axisLabel: { show: false },
    splitLine: { show: true, lineStyle: { color: GRID_MINOR, width: 1, type: [2, 3] } }
  });

  const yName = p.kind === 'err'
    ? { name: 'Error', nameGap: 35, nameTextStyle: { fontSize: 15, fontFamily: FONT, color: INK } }
    : { name: '{l|λ}{m|min}', nameGap: 40, nameTextStyle: { rich: {
        l: { fontSize: 16, fontFamily: FONT, color: INK },
        m: { fontSize: 11, fontFamily: FONT, color: INK, padding: [7, 0, 0, 0] }
      } } };
  yAxis.push(Object.assign({
    type: 'log', gridIndex: gi, position: 'left', min: p.yMin, max: p.yMax,
    axisLine: { show: true, onZero: false, lineStyle: { color: INK, width: 1 } },
    axisTick: { show: true, inside: true, length: 5, customValues: p.yTicks, lineStyle: { color: INK } },
    axisLabel: { customValues: p.yTicks, formatter: fmtPow, margin: 6, rich: TICK_RICH },
    splitLine: { show: true, lineStyle: { color: GRID_MAJOR, width: 1 } },
    nameLocation: 'middle'
  }, yName));
  yAxis.push({
    type: 'log', gridIndex: gi, position: 'right', min: p.yMin, max: p.yMax,
    axisLine: { show: true, onZero: false, lineStyle: { color: INK, width: 1 } },
    axisTick: { show: true, inside: true, length: 3, customValues: yMinor, lineStyle: { color: INK } },
    axisLabel: { show: false },
    splitLine: { show: true, lineStyle: { color: GRID_MINOR, width: 1, type: [2, 3] } }
  });

  const ax = { xAxisIndex: gi * 2, yAxisIndex: gi * 2 };

  // marked shape parameter
  const refLines = p.ref.map(x => [{ coord: [x, p.yMax] }, { coord: [x, p.yMin] }]);
  if (p.refShort) refLines.push([{ coord: [p.refShort, p.yMax] }, { coord: [p.refShort, 0.05] }]);
  series.push(Object.assign({
    type: 'line', name: 'ref' + gi, data: [], silent: true, z: 1,
    markLine: { silent: true, animation: false, symbol: ['none', 'none'], label: { show: false },
      lineStyle: { color: REF_COLOR, width: 1.5, type: [8, 5], opacity: 0.85 }, data: refLines }
  }, ax));

  const colors = [C_LAP, C_HELM, C_ADV];
  const dashes = ['solid', DASHDOT, DASH];
  // Radial BEM: line plus a bead of point markers along it
  p.bem.forEach((d, k) => {
    series.push(Object.assign({
      type: 'line', name: BEM_NAMES[k], data: d, symbol: 'circle', symbolSize: 5, showSymbol: false,
      lineStyle: { color: colors[k], width: 2, type: dashes[k] }, itemStyle: { color: colors[k] },
      silent: true, animation: false, z: 2
    }, ax));
    series.push(Object.assign({
      type: 'line', name: BEM_NAMES[k] + ' pts', data: d, symbol: 'none',
      lineStyle: { color: colors[k], width: 4.6, type: [0, 5.5], cap: 'round' },
      silent: true, animation: false, z: 2
    }, ax));
  });
  p.rbf.forEach((d, k) => {
    series.push(Object.assign({
      type: 'line', name: p.rbfNames[k], data: d, symbol: 'circle', symbolSize: 5, showSymbol: false,
      lineStyle: { color: colors[k], width: 2, type: dashes[k] }, itemStyle: { color: colors[k] },
      silent: true, animation: false, z: 2
    }, ax));
  });

  // legend: white framed box with two columns of entries
  const bx = g.left + LEGEND_BOX.dx, by = g.top + LEGEND_BOX.dy;
  graphic.push({
    type: 'rect', silent: true, z: 3,
    shape: { x: bx + 0.5, y: by + 0.5, width: LEGEND_BOX.width, height: LEGEND_BOX.height },
    style: { fill: '#ffffff', stroke: INK, lineWidth: 1 }
  });
  const legendBase = {
    orient: 'vertical', top: by + 4, selectedMode: false, padding: 0,
    itemGap: 4, itemWidth: 42, itemHeight: 7,
    textStyle: { fontSize: 12, fontFamily: FONT, color: '#000000' }
  };
  legend.push(Object.assign({}, legendBase, {
    left: bx + 3, data: BEM_NAMES.map(n => ({ name: n }))
  }));
  legend.push(Object.assign({}, legendBase, {
    left: bx + 3 + LEGEND_BOX.colGap, data: p.rbfNames.map(n => ({ name: n, itemStyle: { opacity: 0 } }))
  }));
});

const chart = echarts.init(document.getElementById('chart'), null, { renderer: 'canvas' });
chart.setOption({
  backgroundColor: '#ffffff',
  animation: false,
  grid, xAxis, yAxis, series, legend, graphic
});
</script>
</body>
</html>
